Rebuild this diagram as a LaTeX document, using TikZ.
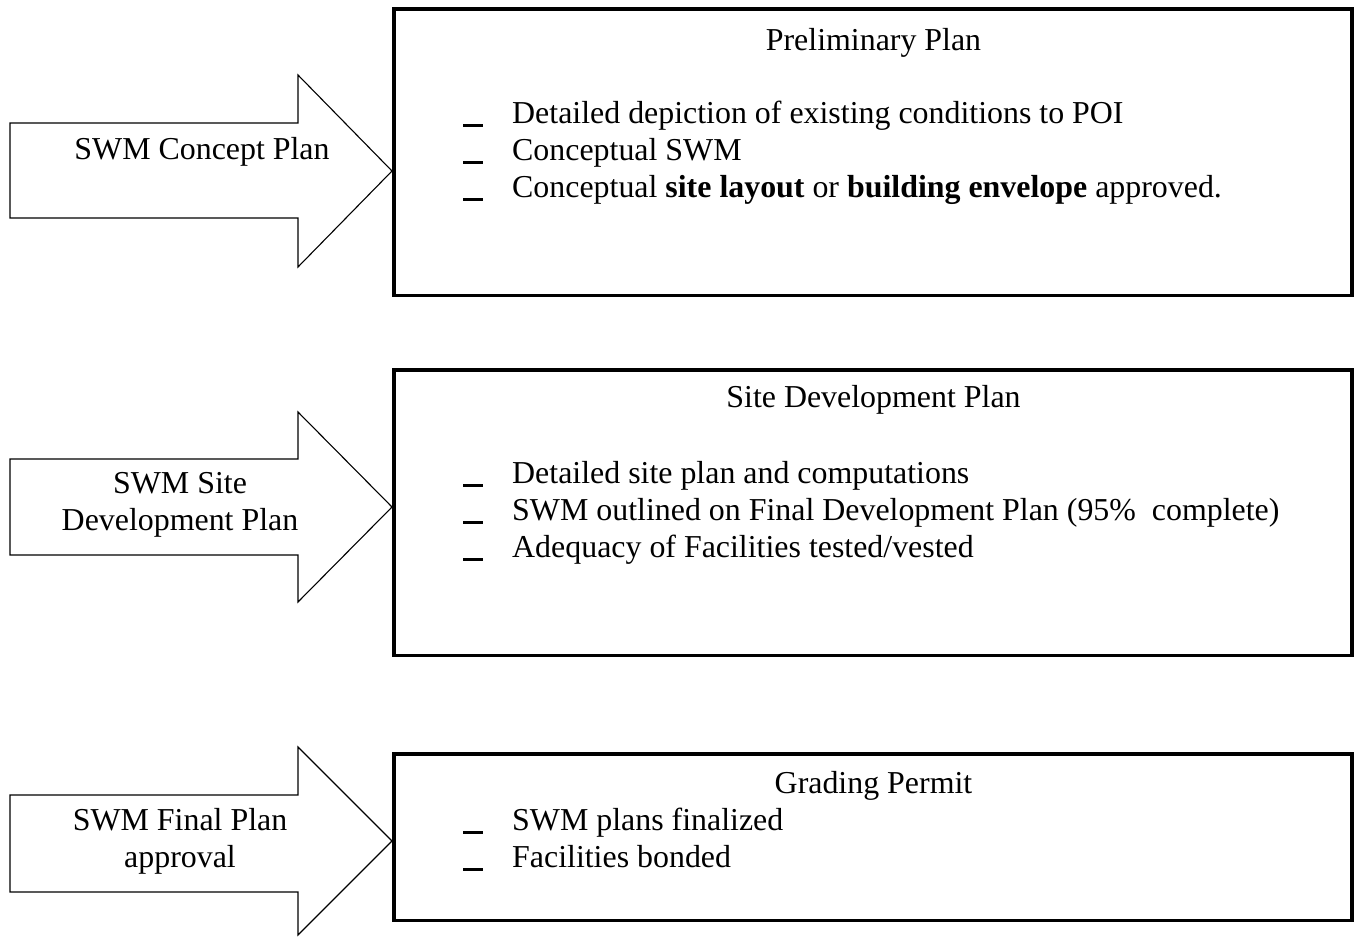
\documentclass[tikz,border=0pt]{standalone}
\usepackage{fontspec}
\setmainfont{Liberation Serif}
\newcommand{\itembar}{\llap{\rule[-3.5pt]{20pt}{2.5pt}\hspace{29pt}}}
\begin{document}
\begin{tikzpicture}[x=1pt,y=-1pt,
  txt/.style={inner sep=0pt, font=\fontsize{31.9}{37}\selectfont},
  ctext/.style={txt, anchor=base},
  itemtext/.style={txt, anchor=base west},
  boxline/.style={draw=black, line width=3.5pt},
  arrowline/.style={draw=black, line width=1.1pt, fill=white, line join=miter}]
\useasboundingbox (0,0) rectangle (1356,937);
\fill[white] (0,0) rectangle (1356,937);

% ---------- Box 1 ----------
\coordinate (b1nw) at (394,9);
\coordinate (b1se) at (1352,295.5);
\draw[boxline] (b1nw) rectangle (b1se);
\node[ctext] (t1) at (873.5,50) {Preliminary Plan};
\node[itemtext] (i11) at (512,123) {\itembar Detailed depiction of existing conditions to POI};
\node[itemtext] (i12) at (512,160) {\itembar Conceptual SWM};
\node[itemtext] (i13) at (512,197) {\itembar Conceptual \textbf{site layout} or \textbf{building envelope} approved.};

% ---------- Box 2 ----------
\coordinate (b2nw) at (394,370);
\coordinate (b2se) at (1352,655.5);
\draw[boxline] (b2nw) rectangle (b2se);
\node[ctext] (t2) at (873.5,407) {Site Development Plan};
\node[itemtext] (i21) at (512,483) {\itembar Detailed site plan and computations};
\node[itemtext] (i22) at (512,520) {\itembar SWM outlined on Final Development Plan (95\%\ \ complete)};
\node[itemtext] (i23) at (512,557) {\itembar Adequacy of Facilities tested/vested};

% ---------- Box 3 ----------
\coordinate (b3nw) at (394,754);
\coordinate (b3se) at (1352,920.5);
\draw[boxline] (b3nw) rectangle (b3se);
\node[ctext] (t3) at (873.5,793) {Grading Permit};
\node[itemtext] (i31) at (512,830) {\itembar SWM plans finalized};
\node[itemtext] (i32) at (512,867) {\itembar Facilities bonded};

% ---------- Arrows ----------
\draw[arrowline] (10,123) -- (298,123) -- (298,75) -- (392,171) -- (298,267) -- (298,218) -- (10,218) -- cycle;
\node[ctext] (a1) at (202,159) {SWM Concept Plan};

\draw[arrowline] (10,459) -- (298,459) -- (298,412) -- (392,507) -- (298,602) -- (298,555) -- (10,555) -- cycle;
\node[ctext] (a2a) at (180,493) {SWM Site};
\node[ctext] (a2b) at (180,530) {Development Plan};

\draw[arrowline] (10,795) -- (298,795) -- (298,747) -- (392,841) -- (298,935) -- (298,892) -- (10,892) -- cycle;
\node[ctext] (a3a) at (180,830) {SWM Final Plan};
\node[ctext] (a3b) at (180,867) {approval};
\end{tikzpicture}
\end{document}
